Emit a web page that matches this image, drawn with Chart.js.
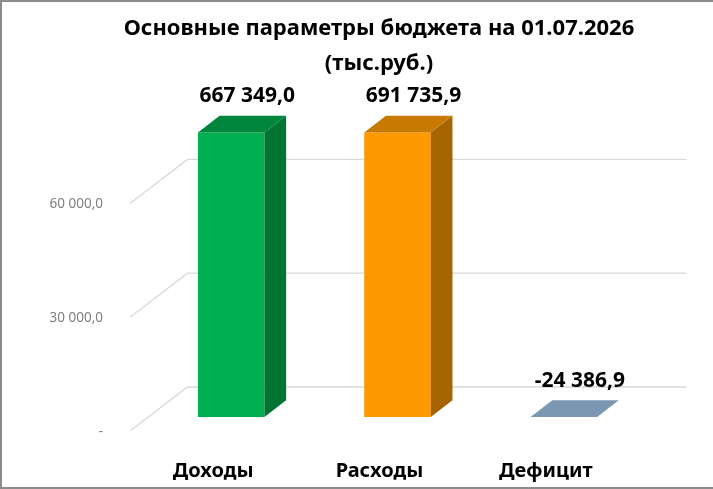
<!DOCTYPE html>
<html lang="ru">
<head>
<meta charset="utf-8">
<title>Основные параметры бюджета</title>
<script src="https://cdn.jsdelivr.net/npm/chart.js@4.4.1/dist/chart.umd.min.js"></script>
<style>
  html, body { margin: 0; padding: 0; background: #fff; }
  #obertka { position: relative; width: 713px; height: 489px; }
  #ramka {
    position: absolute; left: 0; top: 0; right: 0; bottom: 0;
    box-sizing: border-box; pointer-events: none;
    border-top: 2px solid #8c8c8c;
    border-left: 2px solid #8c8c8c;
    border-bottom: 2px solid #8c8c8c;
  }
</style>
</head>
<body>
<div id="obertka">
  <canvas id="grafik-byudzhet"></canvas>
  <div id="ramka"></div>
</div>
<script>
// Данные диаграммы
const kategorii = ['Доходы', 'Расходы', 'Дефицит'];
const znacheniya = [667349.0, 691735.9, -24386.9];
const tickiY = [0, 30000, 60000];
const podpisiY = ['-', '30 000,0', '60 000,0'];

// Цвета граней: передняя, боковая, верхняя
const tsvetPered = ['#00b050', '#ff9900', '#7b97b2'];
const tsvetBok = ['#007433', '#a66400', '#6a86a0'];
const tsvetVerh = ['#00853c', '#c77900', '#7b97b2'];

// Псевдо-3D: глубина столбца и смещения пола/задней стенки
const GLUBINA = { dx: 21.7, dy: 16.7 };
const PERED = { dx: -18, dy: 14 };
const ZAD = { dx: 39.5, dy: -30 };

const SHRIFT = '"Noto Sans", "DejaVu Sans", sans-serif';
Chart.defaults.font.family = SHRIFT;

function formatChislo(v) {
  const znak = v < 0 ? '-' : '';
  const [tsel, drob] = Math.abs(v).toFixed(1).split('.');
  return znak + tsel.replace(/\B(?=(\d{3})+(?!\d))/g, ' ') + ',' + drob;
}

const plaginObem = {
  id: 'obem3d',
  beforeDatasetsDraw(chart) {
    const { ctx, chartArea: a, scales: { y } } = chart;
    ctx.save();
    ctx.strokeStyle = '#d9d9d9';
    ctx.lineWidth = 1.3;
    y.ticks.forEach((t) => {
      const py = y.getPixelForValue(t.value);
      ctx.beginPath();
      ctx.moveTo(a.left + PERED.dx, py + PERED.dy);
      ctx.lineTo(a.left + ZAD.dx, py + ZAD.dy);
      ctx.lineTo(a.right + ZAD.dx, py + ZAD.dy);
      ctx.stroke();
    });

    // подписи оси Y на переднем крае пола (подписи шкалы обрезаются по ширине оси)
    ctx.fillStyle = '#7f7f7f';
    ctx.font = '13.5px ' + SHRIFT;
    ctx.textAlign = 'right';
    ctx.textBaseline = 'middle';
    y.ticks.forEach((t) => {
      const py = y.getPixelForValue(t.value);
      ctx.fillText(podpisiY[tickiY.indexOf(t.value)], a.left - 45, py + 15);
    });
    ctx.restore();
  },
  afterDatasetsDraw(chart) {
    const { ctx, chartArea: a } = chart;
    const meta = chart.getDatasetMeta(0);
    ctx.save();
    meta.data.forEach((bar, i) => {
      const lev = bar.x - bar.width / 2;
      const prav = bar.x + bar.width / 2;
      const verh = Math.min(Math.max(bar.y, a.top), a.bottom);
      const niz = Math.min(Math.max(bar.base, a.top), a.bottom);

      // боковая грань
      if (niz - verh > 0) {
        ctx.fillStyle = tsvetBok[i];
        ctx.beginPath();
        ctx.moveTo(prav, verh);
        ctx.lineTo(prav + GLUBINA.dx, verh - GLUBINA.dy);
        ctx.lineTo(prav + GLUBINA.dx, niz - GLUBINA.dy);
        ctx.lineTo(prav, niz);
        ctx.closePath();
        ctx.fill();
      }

      // верхняя грань
      ctx.fillStyle = tsvetVerh[i];
      ctx.beginPath();
      ctx.moveTo(lev, verh);
      ctx.lineTo(lev + GLUBINA.dx, verh - GLUBINA.dy);
      ctx.lineTo(prav + GLUBINA.dx, verh - GLUBINA.dy);
      ctx.lineTo(prav, verh);
      ctx.closePath();
      ctx.fill();

      // подпись значения
      ctx.fillStyle = '#000';
      ctx.font = 'bold 21px ' + SHRIFT;
      ctx.textAlign = 'center';
      ctx.textBaseline = 'middle';
      ctx.fillText(formatChislo(znacheniya[i]), bar.x + 16, verh - GLUBINA.dy - 19.5);
    });
    ctx.restore();
  }
};

new Chart(document.getElementById('grafik-byudzhet'), {
  type: 'bar',
  data: {
    labels: kategorii,
    datasets: [{
      data: znacheniya,
      backgroundColor: tsvetPered,
      borderWidth: 0,
      barPercentage: 0.4,
      categoryPercentage: 1,
      clip: 0
    }]
  },
  options: {
    responsive: true,
    maintainAspectRatio: false,
    animation: false,
    layout: { padding: { left: 111, right: 66, top: 0, bottom: 0 } },
    plugins: {
      legend: { display: false },
      tooltip: { enabled: false },
      title: {
        display: true,
        text: ['Основные параметры бюджета на 01.07.2026', '(тыс.руб.)'],
        color: '#000',
        font: { size: 22, weight: 'bold', lineHeight: 35 / 22 },
        padding: { top: 11.5, bottom: 51 }
      }
    },
    scales: {
      x: {
        grid: { display: false, drawTicks: false },
        border: { display: false },
        ticks: {
          color: '#000',
          font: { size: 20, weight: 'bold' },
          labelOffset: -18,
          padding: 42
        },
        afterFit(s) { s.height = 72; }
      },
      y: {
        min: 0,
        max: 75000,
        grid: { display: false, drawTicks: false },
        border: { display: false },
        afterBuildTicks(s) { s.ticks = tickiY.map((v) => ({ value: v })); },
        ticks: { display: false },
        afterFit(s) { s.width = 37; }
      }
    }
  },
  plugins: [plaginObem]
});
</script>
</body>
</html>
